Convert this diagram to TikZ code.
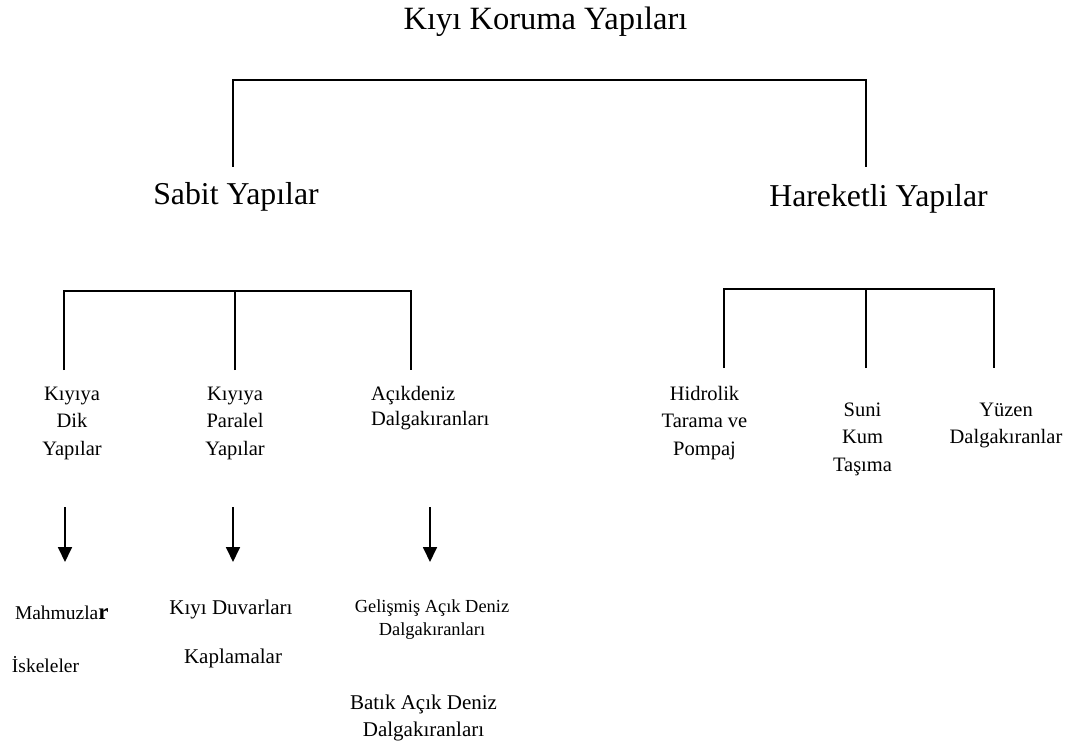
\documentclass[tikz,border=0pt]{standalone}
\usepackage{fontspec}
\setmainfont{Liberation Serif}
\usetikzlibrary{arrows.meta}
\newcommand{\mlc}[1]{\begin{tabular}[t]{@{}c@{}}#1\end{tabular}}
\newcommand{\mll}[1]{\begin{tabular}[t]{@{}l@{}}#1\end{tabular}}
\begin{document}
\begin{tikzpicture}[x=1pt,y=-1pt,
  lbl/.style={inner sep=0pt, outer sep=0pt, anchor=base},
  big/.style={lbl, font=\fontsize{31.8}{36}\selectfont},
  small/.style={lbl, font=\fontsize{20.5}{27.8}\selectfont},
  smalltight/.style={lbl, font=\fontsize{20.5}{25}\selectfont},
  tiny/.style={lbl, font=\fontsize{18.4}{23}\selectfont},
  conn/.style={line width=1.6pt},
  arr/.style={line width=1.8pt, -{Triangle[width=14pt,length=15pt]}}]
\useasboundingbox (0,0) rectangle (1074,746);

% titles
\node[big, font=\fontsize{32.5}{36}\selectfont] (title) at (545.5,30) {Kıyı Koruma Yapıları};
\node[big] (sabit) at (236,205) {Sabit Yapılar};
\node[big] (hareketli) at (878.5,207) {Hareketli Yapılar};

% top bracket
\coordinate (t1) at (233,167);
\coordinate (t2) at (866,167);
\coordinate (tm) at (550,80);
\draw[conn] (t1) |- (tm) -| (t2);

% left bracket
\coordinate (l1) at (64,370);
\coordinate (l2) at (235,370);
\coordinate (l3) at (411,370);
\coordinate (lm) at (235,291);
\draw[conn] (l1) |- (lm) -| (l3);
\draw[conn] (l2) -- (lm);

% right bracket
\coordinate (r1) at (724,368);
\coordinate (r2) at (866,368);
\coordinate (r3) at (994,368);
\coordinate (rm) at (866,289);
\draw[conn] (r1) |- (rm) -| (r3);
\draw[conn] (r2) -- (rm);

% second level labels
\node[small] (dik) at (72,400) {\mlc{Kıyıya\\Dik\\Yapılar}};
\node[small] (paralel) at (235,400) {\mlc{Kıyıya\\Paralel\\Yapılar}};
\node[smalltight, anchor=base west] (acik) at (371,400) {\mll{Açıkdeniz\\Dalgakıranları}};
\node[small] (hidrolik) at (704.5,400) {\mlc{Hidrolik\\Tarama ve\\Pompaj}};
\node[small] (suni) at (862.5,416) {\mlc{Suni\\Kum\\Taşıma}};
\node[small] (yuzen) at (1006,416) {\mlc{Yüzen\\Dalgakıranlar}};

% arrows
\coordinate (a1s) at (65,507);  \coordinate (a1e) at (65,562);
\coordinate (a2s) at (233,507); \coordinate (a2e) at (233,562);
\coordinate (a3s) at (430,507); \coordinate (a3e) at (430,562);
\draw[arr] (a1s) -- (a1e);
\draw[arr] (a2s) -- (a2e);
\draw[arr] (a3s) -- (a3e);

% bottom labels
\node[lbl, anchor=base west] (mahmuz) at (15,619) {{\fontsize{19.5}{24}\selectfont Mahmuzla}{\fontsize{23}{26}\selectfont\bfseries r}};
\node[lbl, anchor=base west, font=\fontsize{19.5}{24}\selectfont] (iskele) at (12,672) {İskeleler};
\node[small, font=\fontsize{21}{27}\selectfont] (duvar) at (231,614) {Kıyı Duvarları};
\node[small, font=\fontsize{21}{27}\selectfont] (kaplama) at (233,663) {Kaplamalar};
\node[tiny] (gelismis) at (432,612) {\mlc{Gelişmiş Açık Deniz\\Dalgakıranları}};
\node[lbl, font=\fontsize{21}{27}\selectfont] (batik) at (423.5,709) {\mlc{Batık Açık Deniz\\Dalgakıranları}};
\end{tikzpicture}
\end{document}
